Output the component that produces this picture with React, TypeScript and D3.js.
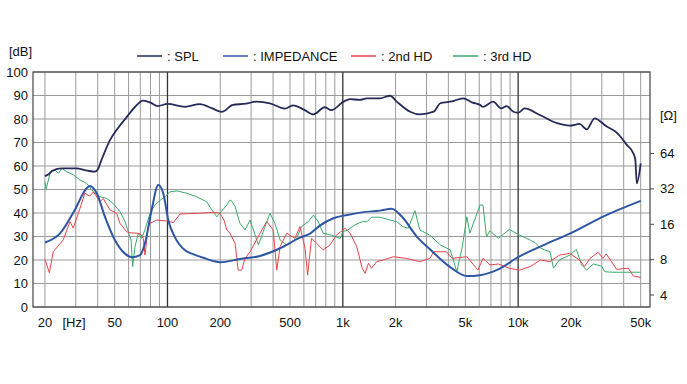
import * as React from 'react'
import * as d3 from 'd3'

// [frequency Hz, level dB]
const splData: [number, number][] = [
  [20, 55.7], [21, 56.5], [22, 58], [25, 59], [30, 59], [35, 58], [38.5, 57.6], [40, 58.5],
  [42, 62.5], [47, 71], [52, 76], [58.8, 81], [65, 85], [72.8, 87.8], [80, 87], [88, 85.5], [100, 86.4],
  [126, 85.2], [153, 86.3], [180, 84.5], [204, 83], [236, 86], [280, 86.5], [322, 87.4],
  [384, 86.7], [467, 84.4], [520, 85.8], [600, 84], [680, 82], [790, 85], [860, 83.8],
  [1010, 87.4], [1100, 88.5], [1250, 88.1], [1370, 88.8], [1630, 88.8], [1860, 89.9],
  [2030, 87.4], [2420, 83.1], [2750, 82], [3300, 83.1], [3600, 86.7], [4200, 87.5],
  [4850, 88.8], [5500, 87], [6060, 86], [6300, 85.2], [7200, 87.4], [8000, 84.5],
  [8600, 85.5], [9400, 83.1], [10000, 82.7], [10900, 84.5], [13300, 81.7], [16700, 78.2],
  [19700, 77.2], [22400, 77.9], [24600, 75.6], [27300, 80.3], [31700, 77], [36500, 74.2],
  [41800, 68.9], [45400, 65.4], [46600, 62.6], [47500, 52.6], [50000, 61.1],
]

// [frequency Hz, impedance ohm]
const impedanceData: [number, number][] = [
  [20, 11.2], [24.4, 13.4], [29.6, 21.2], [34.6, 32.4], [36.1, 33.9], [39.5, 29.4],
  [44, 18.5], [50.2, 11.7], [57.2, 9], [62.5, 8.4], [69.7, 8.75], [74.4, 11], [81.2, 21.2],
  [88.6, 34.5], [94.6, 29.4], [101, 17.4], [110, 12.5], [126, 9.6], [140, 8.9], [160, 8.3],
  [182, 7.8], [199, 7.6], [259, 8.1], [337, 8.6], [439, 10], [570, 12.3], [650, 13.3],
  [740, 15.6], [885, 18], [1060, 19.2], [1310, 20.3], [1630, 20.9], [1900, 21.7],
  [2170, 18.6], [2650, 12.5], [3140, 9.8], [4100, 6.9], [5100, 5.8], [6060, 5.9],
  [7700, 6.6], [10000, 8.4], [14500, 10.9], [19700, 13.3], [30500, 18.6], [50000, 25.3],
]

const hd2Data: [number, number][] = [
  [20, 20.3], [21.2, 14.6], [22.3, 23.5], [25.4, 28.5], [27.8, 36.3], [29, 33.6], [31.7, 42],
  [33.8, 48.4], [36.1, 47.2], [37.8, 49], [41.2, 44.8], [43, 46.2], [47, 41.3], [51.3, 39.9],
  [53.6, 35.6], [58.5, 32], [61, 31.6], [69.7, 31.3], [72.8, 29.2], [74.4, 22.1], [77.7, 34.2],
  [79.5, 35.6], [86.8, 37], [99, 36.6], [108, 35.9], [118, 39.6], [153, 39.9], [182, 40.3],
  [199, 39.9], [210, 37], [218, 32.8], [227, 31.4], [243, 27.1], [253, 15.7], [265, 15.7],
  [277, 20.7], [296, 23.5], [337, 31.4], [368, 36.3], [401, 32.8], [420, 15.7], [439, 25.7],
  [479, 31.4], [533, 29.2], [570, 34.2], [609, 25], [630, 13.6], [663, 29.2], [708, 27.1],
  [773, 24.3], [845, 26.4], [920, 30.6], [1030, 33.5], [1100, 31.4], [1200, 25.7],
  [1290, 16.5], [1340, 14.3], [1400, 18.6], [1460, 16.5], [1560, 19.3], [1700, 20],
  [1940, 21.4], [2300, 20.7], [2750, 19.3], [3140, 20.7], [3300, 23.5], [3900, 23.5],
  [4200, 20.7], [5100, 21.4], [5900, 15.7], [6300, 20.7], [6900, 17.9], [7700, 18.3],
  [8900, 16.5], [10200, 15.7], [11700, 17.2], [13400, 20], [15200, 19.3], [17200, 22.1],
  [19700, 22.8], [22400, 20], [23900, 17.2], [25700, 20.7], [28600, 23.3], [30500, 20.7],
  [31800, 22.6], [36500, 16], [42500, 16.5], [45400, 13.2], [50000, 12.6],
]

const hd3Data: [number, number][] = [
  [20, 53.3], [20.3, 50.1], [21.4, 56.9], [22.8, 58.3], [23.9, 56.9], [25, 59], [26.6, 57.6],
  [29.1, 56.2], [31.7, 54], [34.6, 52.6], [37.8, 49], [41.2, 46.9], [45, 46.2], [49, 44.1],
  [53.6, 40.6], [57.3, 36.3], [59.8, 32], [62, 28.5], [63.3, 17.2], [65.3, 25.7], [68.2, 31.4],
  [71.2, 29.2], [74.4, 32.8], [79.5, 39.9], [84.8, 43.4], [91, 45.5], [97, 46.9], [103, 49],
  [113, 49.4], [129, 48.4], [147, 46.9], [167, 44.8], [182, 40.6], [191, 38.4], [199, 39.9],
  [218, 43.4], [227, 45.5], [232, 45.2], [243, 42.7], [259, 35.6], [277, 32.8], [296, 37],
  [309, 32.8], [330, 26.4], [360, 34.2], [384, 39.9], [410, 35.6], [439, 28.5], [479, 26.4],
  [545, 29.2], [581, 34.2], [635, 36.3], [680, 39.1], [724, 36.3], [773, 31.4], [860, 30.6],
  [965, 29.2], [1000, 32], [1070, 32.8], [1170, 34.9], [1290, 36.3], [1370, 36.3],
  [1460, 38.2], [1630, 38.2], [1860, 37], [2030, 36.3], [2200, 34.2], [2360, 33.5],
  [2580, 41], [2750, 32.8], [3140, 30.5], [3600, 26.4], [4100, 24.3], [4470, 15], [4800, 25.7],
  [5100, 38.4], [5300, 31.4], [6060, 43.4], [6300, 43.4], [6600, 29.9], [6900, 32.5],
  [7700, 29.2], [8900, 33], [10200, 30.6], [11700, 28.5], [12500, 27.4], [13400, 25],
  [15200, 23.5], [15900, 16.5], [17200, 20], [19700, 22.1], [21500, 24.5], [23000, 17.9],
  [24600, 15.7], [26800, 18.3], [30000, 17.4], [31200, 15], [34600, 14.8], [50000, 14.8],
]

const freqTicks = [20, 50, 100, 200, 500, 1000, 2000, 5000, 10000, 20000, 50000]
const freqTickLabels = ['20', '50', '100', '200', '500', '1k', '2k', '5k', '10k', '20k', '50k']
const gridFreqs = [
  20, 30, 40, 50, 60, 70, 80, 90, 100, 200, 300, 400, 500, 600, 700, 800, 900, 1000,
  2000, 3000, 4000, 5000, 6000, 7000, 8000, 9000, 10000, 20000, 30000, 40000, 50000,
]
const dbTicks = [0, 10, 20, 30, 40, 50, 60, 70, 80, 90, 100]
const ohmTicks = [4, 8, 16, 32, 64]

const legendItems = [
  { label: ': SPL', color: '#262a58', x: 137 },
  { label: ': IMPEDANCE', color: '#2f56a3', x: 223 },
  { label: ': 2nd HD', color: '#e8434a', x: 351 },
  { label: ': 3rd HD', color: '#3aaa6a', x: 453 },
]

const W = 687
const H = 384
const left = 33
const right = 650
const top = 72
const bottom = 307

const App: React.FC = () => {
  const x = d3.scaleLog().domain([17.1, 56500]).range([left, right])
  const y = d3.scaleLinear().domain([0, 100]).range([bottom, top])
  // right axis: log ohm scale sharing the dB frame
  const yOhm = d3.scaleLog().domain([Math.pow(10, 0.5), Math.pow(10, 2.5)]).range([bottom, top])

  const dbLine = d3.line<[number, number]>().x(d => x(d[0])).y(d => y(d[1]))
  const ohmLine = d3.line<[number, number]>()
    .x(d => x(d[0])).y(d => yOhm(d[1]))
    .curve(d3.curveMonotoneX)
  const splLine = d3.line<[number, number]>()
    .x(d => x(d[0])).y(d => y(d[1]))
    .curve(d3.curveMonotoneX)

  const font = 'Liberation Sans, Arial, sans-serif'

  return (
    <svg width={W} height={H} style={{ position: 'absolute', left: 0, top: 0, background: '#fff' }}
      fontFamily={font}>
      {dbTicks.map(t => (
        <line key={'h' + t} x1={left} x2={right} y1={y(t)} y2={y(t)} stroke="#9a9a9a" strokeWidth={1} />
      ))}
      {gridFreqs.map(f => {
        const major = f === 100 || f === 1000 || f === 10000
        return (
          <line key={'v' + f} x1={x(f)} x2={x(f)} y1={top} y2={bottom}
            stroke={major ? '#333' : '#9a9a9a'} strokeWidth={major ? 1.3 : 1} />
        )
      })}
      <rect x={left} y={top} width={right - left} height={bottom - top} fill="none" stroke="#444" strokeWidth={1.2} />

      {dbTicks.map(t => (
        <text key={'dl' + t} x={28} y={y(t)} dy="0.35em" textAnchor="end" fontSize={13} fill="#111">{t}</text>
      ))}
      <text x={9} y={56} fontSize={13} fill="#111">[dB]</text>

      {freqTicks.map((f, i) => (
        <text key={'fl' + f} x={x(f)} y={322} dy="0.35em" textAnchor="middle" fontSize={13} fill="#111">
          {freqTickLabels[i]}
        </text>
      ))}
      <text x={74} y={322} dy="0.35em" textAnchor="middle" fontSize={13} fill="#111">[Hz]</text>

      {ohmTicks.map(t => (
        <g key={'ol' + t}>
          <line x1={right} x2={right + 4} y1={yOhm(t)} y2={yOhm(t)} stroke="#444" />
          <text x={660} y={yOhm(t)} dy="0.35em" fontSize={13} fill="#111">{t}</text>
        </g>
      ))}
      <text x={660} y={115} dy="0.35em" fontSize={13} fill="#111">[Ω]</text>

      {legendItems.map(item => (
        <g key={item.label}>
          <line x1={item.x} x2={item.x + 25} y1={56} y2={56} stroke={item.color} strokeWidth={1.5} />
          <text x={item.x + 30} y={56} dy="0.35em" fontSize={13} fill="#111">{item.label}</text>
        </g>
      ))}

      <path d={dbLine(hd3Data) ?? ''} fill="none" stroke="#3aaa6a" strokeWidth={1} />
      <path d={dbLine(hd2Data) ?? ''} fill="none" stroke="#e8434a" strokeWidth={1} />
      <path d={ohmLine(impedanceData) ?? ''} fill="none" stroke="#2f56a3" strokeWidth={2} />
      <path d={splLine(splData) ?? ''} fill="none" stroke="#262a58" strokeWidth={1.8} />
    </svg>
  )
}

export default App
